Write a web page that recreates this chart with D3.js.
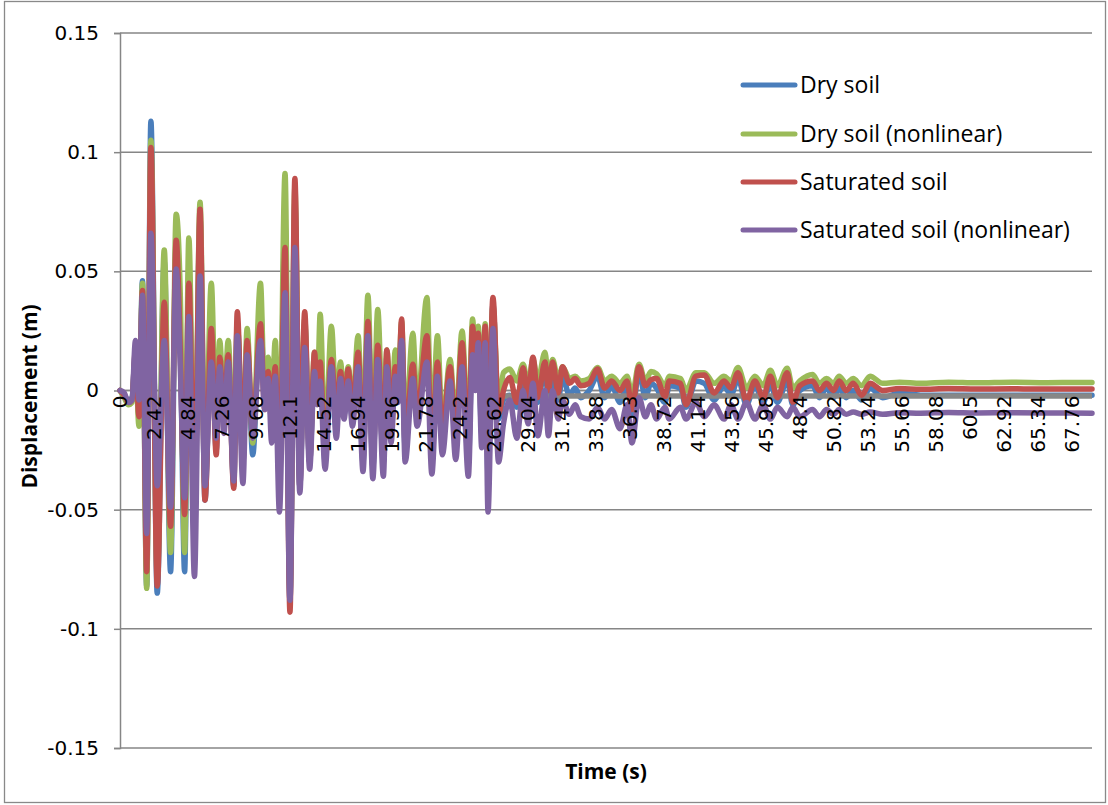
<!DOCTYPE html>
<html>
<head>
<meta charset="utf-8">
<script src="https://cdn.jsdelivr.net/npm/d3@7"></script>
<style>
  html, body { margin: 0; padding: 0; background: #fff; }
  svg { display: block; }
</style>
</head>
<body>
<svg id="chart" width="1108" height="805"></svg>
<script>
// Time (s) of each sampled turning point of the displacement history
const timeS = [
  0, 0.3, 0.6, 0.85, 1.1, 1.35, 1.6, 1.9, 2.2, 2.65,
  3.15, 3.6, 4.0, 4.3, 4.6, 4.9, 5.3, 5.7, 6.05, 6.5,
  6.85, 7.1, 7.4, 7.7, 8.1, 8.35, 8.75, 9.05, 9.45, 10.0,
  10.3, 10.55, 10.8, 11.05, 11.35, 11.75, 12.1, 12.45, 12.8, 13.15,
  13.5, 13.85, 14.05, 14.25, 14.6, 15.05, 15.4, 15.7, 15.95, 16.25,
  16.55, 16.95, 17.3, 17.65, 18.0, 18.35, 18.75, 19.0, 19.3, 19.6,
  19.8, 20.05, 20.3, 20.85, 21.15, 21.85, 22.2, 22.6, 22.95, 23.5,
  23.9, 24.35, 24.8, 25.1, 25.3, 25.5, 25.75, 26.0, 26.2, 26.55,
  26.95, 27.3, 27.75, 28.25, 28.7, 29.05, 29.4, 29.75, 30.25, 30.5,
  30.8, 31.2, 31.5, 32.0, 32.4, 32.8, 33.4, 34.0, 34.5, 35.0,
  35.6, 36.1, 36.45, 36.95, 37.4, 37.8, 38.2, 38.8, 39.1, 39.9,
  40.3, 41.0, 41.6, 42.3, 43.0, 43.5, 44.0, 44.6, 45.2, 45.8,
  46.3, 46.8, 47.5, 47.9, 48.4, 49.3, 49.8, 50.3, 50.8, 51.2,
  51.7, 52.2, 52.8, 53.4, 54.3, 55.5, 57.0, 59.0, 61.0, 63.5,
  66.0, 69.2
];

// Displacement (m) for each soil case
const drySoil = [
  0, -0.002, -0.004, -0.003, 0.016, -0.010, 0.046, -0.082, 0.113, -0.085,
  0.054, -0.076, 0.062, 0.020, -0.076, 0.050, -0.055, 0.072, -0.046, 0.030,
  -0.025, 0.014, -0.012, 0.016, -0.040, 0.028, -0.030, 0.020, -0.027, 0.035,
  -0.006, 0.008, -0.014, 0.012, -0.035, 0.070, -0.088, 0.079, -0.040, 0.028,
  -0.030, 0.012, -0.004, 0.020, -0.030, 0.018, -0.012, 0.008, -0.010, 0.006,
  -0.012, 0.015, -0.030, 0.030, -0.032, 0.022, -0.030, 0.014, -0.018, 0.008,
  -0.004, 0.025, -0.024, 0.012, -0.012, 0.025, -0.028, 0.012, -0.020, 0.008,
  -0.022, 0.018, -0.030, 0.024, 0.008, 0.020, -0.018, 0.024, -0.035, 0.036,
  -0.012, -0.004, -0.002, -0.007, 0.006, -0.005, 0.010, -0.005, 0.010, -0.004,
  0.008, -0.004, 0.006, -0.002, 0.001, -0.003, 0.000, 0.006, -0.003, 0.002,
  -0.005, 0.002, -0.010, 0.008, -0.003, 0.003, 0.001, -0.005, 0.002, 0.001,
  -0.007, 0.004, 0.003, -0.004, 0.002, -0.002, 0.005, -0.006, 0.002, -0.005,
  0.003, -0.005, 0.004, -0.006, 0.000, 0.002, -0.003, 0.001, -0.003, 0.001,
  -0.003, 0.000, -0.004, 0.001, -0.003, -0.001, -0.002, -0.002, -0.002, -0.002,
  -0.002, -0.002
];

const drySoilNonlinear = [
  0, -0.003, -0.006, -0.005, 0.014, -0.015, 0.045, -0.083, 0.105, -0.078,
  0.059, -0.068, 0.074, 0.038, -0.068, 0.064, -0.050, 0.079, -0.040, 0.045,
  -0.020, 0.021, -0.010, 0.021, -0.030, 0.028, -0.026, 0.026, -0.022, 0.045,
  -0.004, 0.014, -0.010, 0.021, -0.030, 0.091, -0.085, 0.085, -0.035, 0.030,
  -0.025, 0.016, -0.002, 0.032, -0.025, 0.027, -0.008, 0.012, -0.006, 0.010,
  -0.008, 0.023, -0.022, 0.040, -0.025, 0.034, -0.024, 0.017, -0.014, 0.017,
  -0.002, 0.029, -0.018, 0.024, -0.008, 0.039, -0.020, 0.023, -0.015, 0.013,
  -0.015, 0.025, -0.020, 0.030, 0.012, 0.027, -0.010, 0.028, -0.025, 0.035,
  -0.006, 0.0075, 0.009, 0.004, 0.011, 0.002, 0.013, 0.004, 0.016, 0.006,
  0.013, 0.004, 0.010, 0.005, 0.006, 0.004, 0.005, 0.0097, 0.004, 0.006,
  0.003, 0.006, -0.002, 0.011, 0.004, 0.008, 0.007, 0.002, 0.006, 0.005,
  0.000, 0.0075, 0.0075, 0.003, 0.006, 0.004, 0.0097, 0.001, 0.006, 0.002,
  0.0085, 0.002, 0.0093, 0.001, 0.004, 0.0067, 0.003, 0.005, 0.003, 0.006,
  0.003, 0.005, 0.002, 0.006, 0.003, 0.0035, 0.003, 0.0035, 0.0032, 0.0035,
  0.0033, 0.0034
];

const saturatedSoil = [
  0, -0.002, -0.005, -0.004, 0.017, -0.011, 0.042, -0.076, 0.102, -0.082,
  0.037, -0.057, 0.063, 0.015, -0.052, 0.045, -0.050, 0.076, -0.046, 0.026,
  -0.027, 0.014, -0.012, 0.015, -0.041, 0.033, -0.030, 0.021, -0.018, 0.028,
  -0.008, 0.008, -0.014, 0.010, -0.038, 0.060, -0.093, 0.089, -0.040, 0.033,
  -0.030, 0.016, -0.003, 0.012, -0.028, 0.013, -0.010, 0.008, -0.008, 0.009,
  -0.010, 0.016, -0.028, 0.029, -0.030, 0.019, -0.028, 0.017, -0.016, 0.010,
  -0.003, 0.030, -0.022, 0.011, -0.010, 0.023, -0.025, 0.012, -0.018, 0.010,
  -0.020, 0.020, -0.026, 0.027, 0.010, 0.024, -0.015, 0.027, -0.030, 0.039,
  -0.010, 0.000, 0.0055, -0.005, 0.0095, -0.003, 0.014, -0.003, 0.012, 0.000,
  0.012, -0.001, 0.010, 0.003, 0.005, 0.002, 0.003, 0.009, 0.001, 0.004,
  0.000, 0.004, -0.008, 0.010, 0.002, 0.0045, 0.005, -0.0025, 0.004, 0.003,
  -0.006, 0.006, 0.0065, -0.001, 0.004, 0.001, 0.0075, -0.0045, 0.004, -0.003,
  0.006, -0.003, 0.0075, -0.005, 0.002, 0.004, 0.000, 0.003, 0.000, 0.004,
  0.000, 0.003, -0.002, 0.003, 0.000, 0.0008, 0.0005, 0.0008, 0.0006, 0.0007,
  0.0006, 0.0006
];

const saturatedSoilNonlinear = [
  0, -0.001, -0.005, -0.004, 0.021, -0.004, 0.040, -0.060, 0.066, -0.040,
  0.021, -0.049, 0.051, 0.008, -0.045, 0.031, -0.078, 0.048, -0.040, 0.012,
  -0.020, 0.010, -0.018, 0.012, -0.038, 0.023, -0.039, 0.015, -0.020, 0.021,
  -0.008, 0.005, -0.022, 0.006, -0.051, 0.041, -0.088, 0.060, -0.043, 0.018,
  -0.033, 0.008, -0.006, 0.004, -0.033, 0.010, -0.020, 0.005, -0.012, 0.004,
  -0.015, 0.010, -0.034, 0.023, -0.037, 0.013, -0.036, 0.010, -0.022, 0.006,
  -0.005, 0.021, -0.030, 0.005, -0.015, 0.012, -0.035, 0.006, -0.027, 0.004,
  -0.029, 0.010, -0.036, 0.015, 0.000, 0.020, -0.024, 0.020, -0.051, 0.026,
  -0.030, -0.014, -0.004, -0.020, 0.000, -0.014, 0.003, -0.019, 0.000, -0.019,
  0.000, -0.012, -0.004, -0.010, -0.006, -0.011, -0.012, -0.007, -0.012, -0.008,
  -0.016, -0.006, -0.022, -0.003, -0.011, -0.006, -0.012, -0.007, -0.012, -0.007,
  -0.012, -0.005, -0.011, -0.006, -0.012, -0.006, -0.012, -0.005, -0.012, -0.006,
  -0.012, -0.007, -0.011, -0.007, -0.011, -0.008, -0.011, -0.008, -0.010, -0.008,
  -0.010, -0.009, -0.010, -0.009, -0.010, -0.0093, -0.0095, -0.0092, -0.0094, -0.0093,
  -0.0094, -0.0095
];

// Residual level traced after the strong shaking
const residualTime = [27.0, 69.2];
const residualLevel = [-0.0023, -0.0023];

const seriesNames = ["Dry soil", "Dry soil (nonlinear)", "Saturated soil", "Saturated soil (nonlinear)"];
const seriesColors = ["#4A7EBB", "#9BBB59", "#C0504D", "#8064A2"];
const seriesValues = [drySoil, drySoilNonlinear, saturatedSoil, saturatedSoilNonlinear];

const yTickValues = [-0.15, -0.1, -0.05, 0, 0.05, 0.1, 0.15];
const xTickLabels = ["0", "2.42", "4.84", "7.26", "9.68", "12.1", "14.52", "16.94", "19.36",
  "21.78", "24.2", "26.62", "29.04", "31.46", "33.88", "36.3", "38.72", "41.14", "43.56",
  "45.98", "48.4", "50.82", "53.24", "55.66", "58.08", "60.5", "62.92", "65.34", "67.76"];

const svg = d3.select("#chart");
const plot = { left: 120, right: 1092, top: 33, bottom: 748 };
const gridColor = "#868686";

const x = d3.scaleLinear().domain([0, 69.2]).range([plot.left, plot.right]);
const y = d3.scaleLinear().domain([-0.15, 0.15]).range([plot.bottom, plot.top]);

// outer chart frame
svg.append("rect")
  .attr("x", 4.5).attr("y", 1.5).attr("width", 1101).attr("height", 801)
  .attr("fill", "#fff").attr("stroke", "#898989").attr("stroke-width", 1.3);

// horizontal gridlines
svg.append("g").selectAll("line").data(yTickValues).join("line")
  .attr("x1", plot.left).attr("x2", plot.right)
  .attr("y1", d => y(d)).attr("y2", d => y(d))
  .attr("stroke", gridColor).attr("stroke-width", 1.5);

// vertical axis with outside tick marks
const yAxis = svg.append("g")
  .attr("transform", `translate(${plot.left},0)`)
  .call(d3.axisLeft(y).tickValues(yTickValues).tickSize(6).tickPadding(15)
    .tickFormat(d => String(d)));
yAxis.select(".domain").attr("stroke", gridColor).attr("stroke-width", 1.5);
yAxis.selectAll(".tick line").attr("stroke", gridColor).attr("stroke-width", 1.5);
yAxis.selectAll(".tick text")
  .attr("font-family", "DejaVu Sans").attr("font-size", 20).attr("fill", "#000");

// horizontal axis line at zero
svg.append("line")
  .attr("x1", plot.left).attr("x2", plot.right)
  .attr("y1", y(0)).attr("y2", y(0))
  .attr("stroke", gridColor).attr("stroke-width", 1.5);

const line = d3.line()
  .x(d => x(d[0]))
  .y(d => y(d[1]))
  .curve(d3.curveMonotoneX);

const seriesG = svg.append("g").attr("fill", "none")
  .attr("stroke-width", 5.5).attr("stroke-linejoin", "round").attr("stroke-linecap", "round");

function drawSeries(values, color) {
  seriesG.append("path")
    .datum(timeS.map((t, i) => [t, values[i]]))
    .attr("stroke", color)
    .attr("d", line);
}

drawSeries(seriesValues[0], seriesColors[0]);
seriesG.append("path")
  .datum(residualTime.map((t, i) => [t, residualLevel[i]]))
  .attr("stroke", "#878787")
  .attr("stroke-linecap", "butt")
  .attr("d", line);
for (let i = 1; i < seriesValues.length; i++) drawSeries(seriesValues[i], seriesColors[i]);

// rotated category labels along the zero line
svg.append("g").selectAll("text").data(xTickLabels).join("text")
  .attr("transform", d => `translate(${x(+d)},${y(0) + 5}) rotate(-90)`)
  .attr("text-anchor", "end")
  .attr("dy", "0.36em")
  .attr("font-family", "DejaVu Sans").attr("font-size", 20).attr("fill", "#000")
  .text(d => d);

// axis titles
svg.append("text")
  .attr("x", 606).attr("y", 779)
  .attr("text-anchor", "middle")
  .attr("font-family", "Open Sans").attr("font-weight", 700).attr("font-size", 21)
  .text("Time (s)");

svg.append("text")
  .attr("transform", `translate(37,${(plot.top + plot.bottom) / 2 + 6}) rotate(-90)`)
  .attr("text-anchor", "middle")
  .attr("font-family", "Open Sans").attr("font-weight", 700).attr("font-size", 21)
  .text("Displacement (m)");

// legend
const legendY = [85, 134, 182, 230];
const legend = svg.append("g").selectAll("g").data(seriesNames).join("g")
  .attr("transform", (d, i) => `translate(0,${legendY[i]})`);
legend.append("line")
  .attr("x1", 743).attr("x2", 795).attr("y1", 0).attr("y2", 0)
  .attr("stroke", (d, i) => seriesColors[i]).attr("stroke-width", 5)
  .attr("stroke-linecap", "round");
legend.append("text")
  .attr("x", 800).attr("y", 8)
  .attr("font-family", "Open Sans").attr("font-size", 23).attr("fill", "#000")
  .text(d => d);
</script>
</body>
</html>
